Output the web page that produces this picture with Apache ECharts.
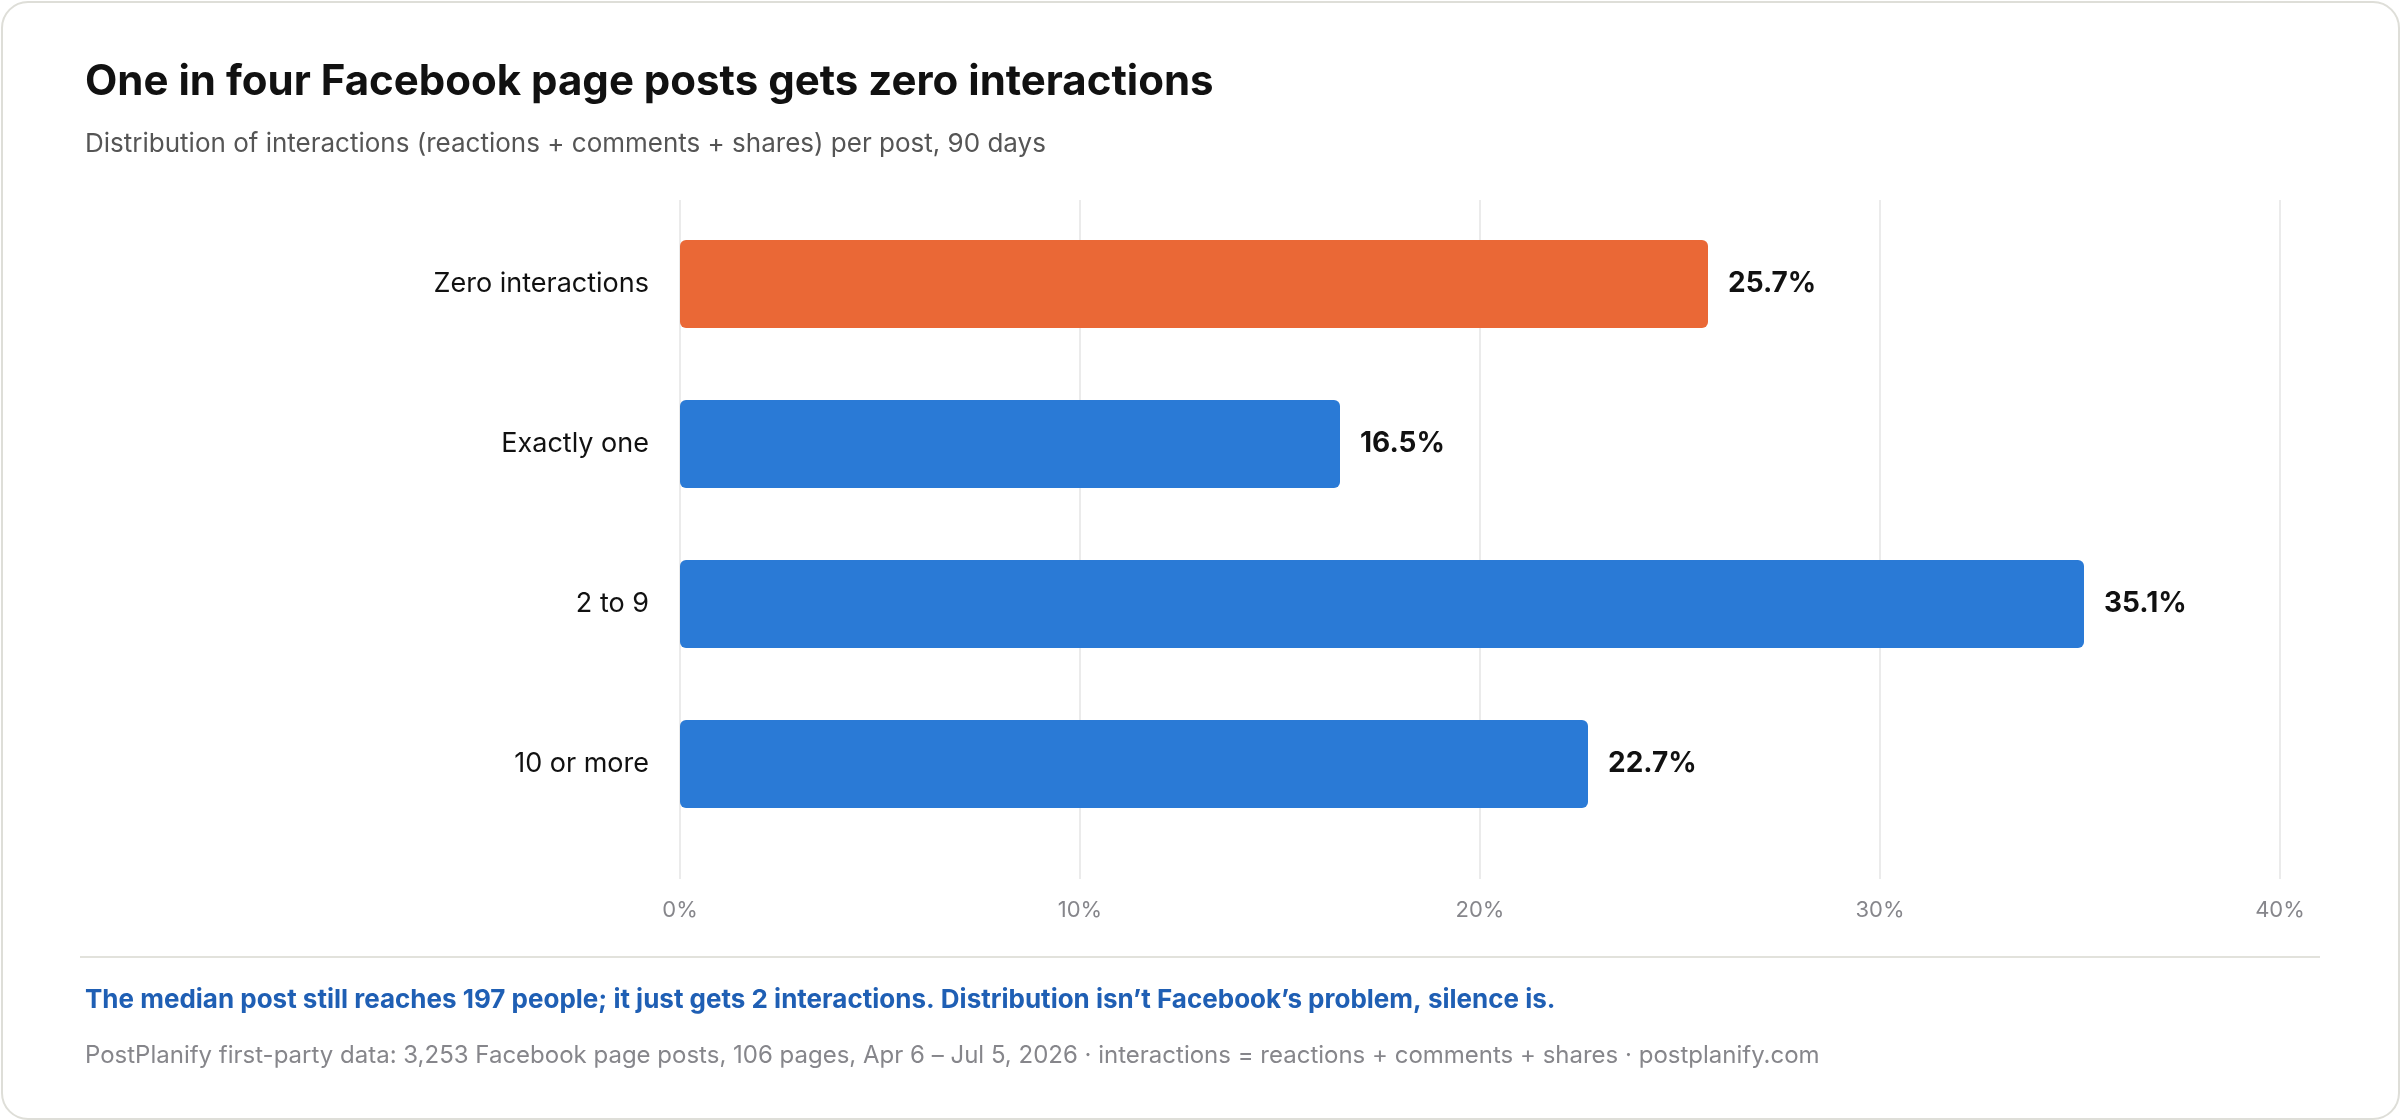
<!DOCTYPE html>
<html>
<head>
<meta charset="utf-8">
<script src="https://cdn.jsdelivr.net/npm/echarts@6/dist/echarts.min.js"></script>
<style>
  html, body { margin: 0; padding: 0; background: #ffffff; }
  #chart { width: 2400px; height: 1120px; }
</style>
</head>
<body>
<div id="chart"></div>
<script>
const categories = ['Zero interactions', 'Exactly one', '2 to 9', '10 or more'];
const shares = [25.7, 16.5, 35.1, 22.7];
const highlight = [true, false, false, false];
const xTicks = [0, 10, 20, 30, 40];

const titleText = 'One in four Facebook page posts gets zero interactions';
const subtitleText = 'Distribution of interactions (reactions + comments + shares) per post, 90 days';
const noteText = 'The median post still reaches 197 people; it just gets 2 interactions. Distribution isn\u2019t Facebook\u2019s problem, silence is.';
const sourceText = 'PostPlanify first-party data: 3,253 Facebook page posts, 106 pages, Apr 6 \u2013 Jul 5, 2026 \u00b7 interactions = reactions + comments + shares \u00b7 postplanify.com';

const ORANGE = '#EA6836';
const BLUE = '#2A7AD6';
const FONT = 'Inter, "Noto Sans", sans-serif';

const chart = echarts.init(document.getElementById('chart'), null, { renderer: 'canvas' });

const barData = shares.map((v, i) => ({
  value: v,
  itemStyle: { color: highlight[i] ? ORANGE : BLUE }
}));

chart.setOption({
  backgroundColor: '#ffffff',
  animation: false,
  textStyle: { fontFamily: FONT },
  title: [
    { text: titleText, left: 80, top: 56,
      textStyle: { fontFamily: FONT, fontSize: 42, fontWeight: 'bold', color: '#111111' } },
    { text: subtitleText, left: 80, top: 126,
      textStyle: { fontFamily: FONT, fontSize: 26, fontWeight: 'normal', color: '#555555' } },
    { text: noteText, left: 80, top: 982,
      textStyle: { fontFamily: FONT, fontSize: 26, fontWeight: 'bold', color: '#1F5FB4' } },
    { text: sourceText, left: 80, top: 1039,
      textStyle: { fontFamily: FONT, fontSize: 24, fontWeight: 'normal', color: '#86868B' } }
  ],
  graphic: [
    { type: 'rect', left: 1, top: 1, z: -10,
      shape: { width: 2397, height: 1117, r: 26 },
      style: { fill: '#ffffff', stroke: '#DEDED8', lineWidth: 2 } },
    { type: 'line', z: 5,
      shape: { x1: 80, y1: 957, x2: 2320, y2: 957 },
      style: { stroke: '#E2E2DC', lineWidth: 2 } }
  ],
  grid: [
    { left: 680, width: 1600, top: 204, height: 640, containLabel: false },
    { left: 680, width: 1600, top: 200, height: 679, containLabel: false }
  ],
  xAxis: [
    { type: 'value', gridIndex: 0, min: 0, max: 40, interval: 10, show: false },
    { type: 'value', gridIndex: 1, min: xTicks[0], max: xTicks[xTicks.length - 1], interval: 10,
      axisLine: { show: false }, axisTick: { show: false },
      splitLine: { show: true, lineStyle: { color: '#EBEBEB', width: 2 } },
      axisLabel: { formatter: '{value}%', margin: 20, fontFamily: FONT, fontSize: 22, color: '#86868B' } }
  ],
  yAxis: [
    { type: 'category', gridIndex: 0, data: categories, inverse: true,
      axisLine: { show: false }, axisTick: { show: false }, splitLine: { show: false },
      axisLabel: { margin: 31, fontFamily: FONT, fontSize: 27, color: '#111111' } },
    { type: 'value', gridIndex: 1, show: false, min: 0, max: 1 }
  ],
  series: [
    { type: 'bar', xAxisIndex: 0, yAxisIndex: 0, data: barData, barWidth: 88,
      itemStyle: { borderRadius: 6 },
      label: { show: true, position: 'right', distance: 20, formatter: '{c}%',
        fontFamily: FONT, fontSize: 28, fontWeight: 'bold', color: '#111111' } }
  ]
});
</script>
</body>
</html>
